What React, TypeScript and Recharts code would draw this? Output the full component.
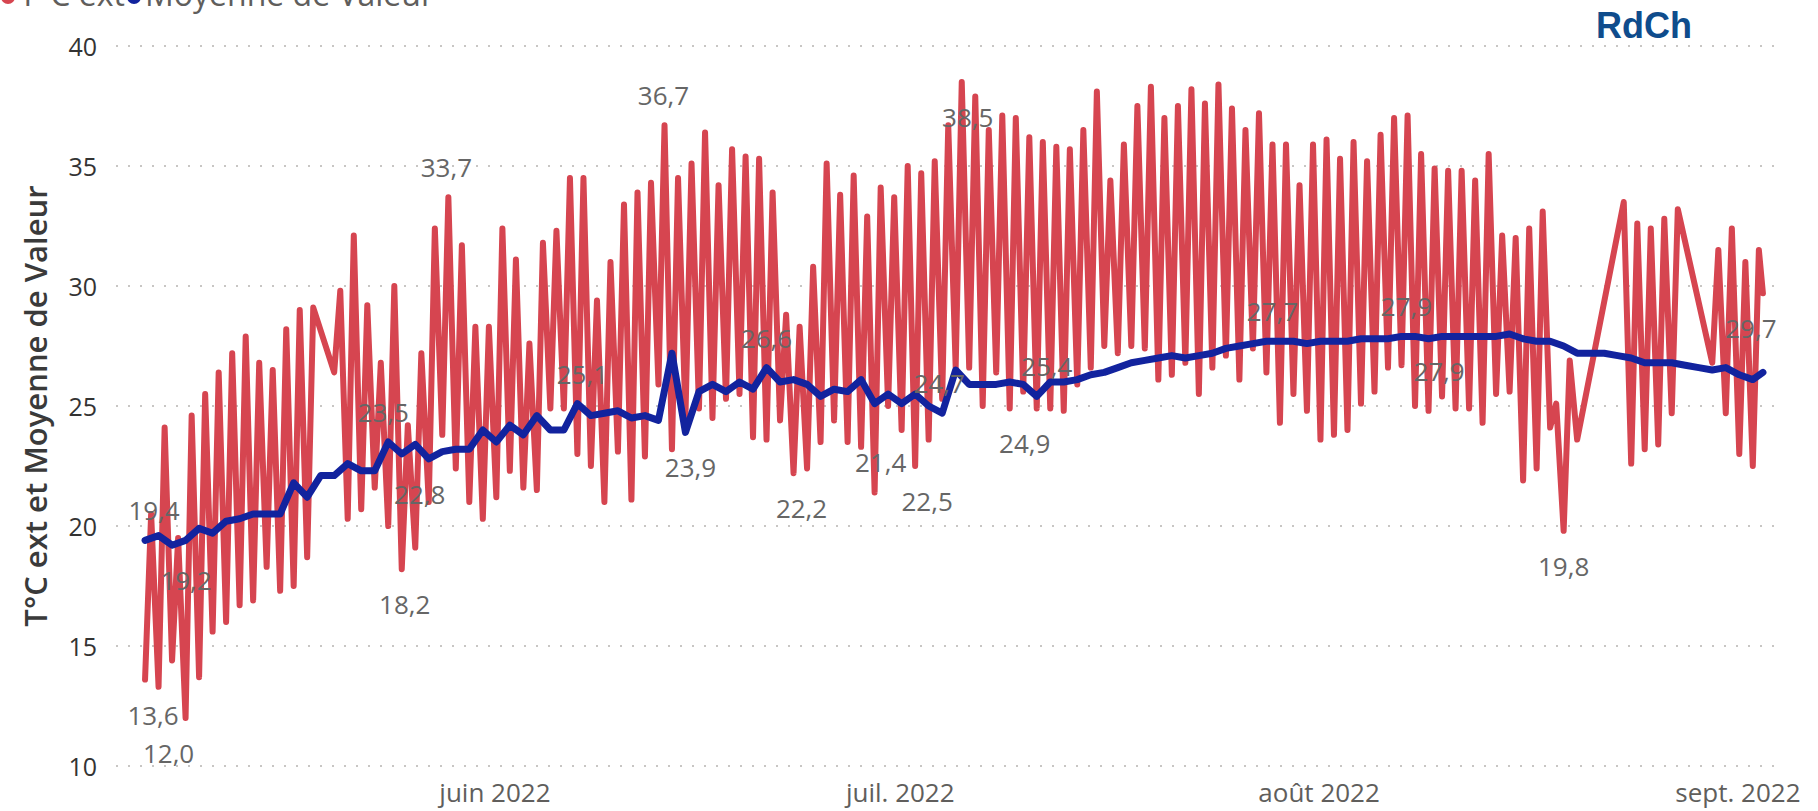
import React from 'react';
import { LineChart, Line, XAxis, YAxis, CartesianGrid, Legend } from 'recharts';

// days are counted from 1 May 2022 (juin = 31, juil. = 61 ...)
const FIRST_DAY = 5;

const monthTicks = [31, 61, 92, 123];
const monthLabels = ['juin 2022', 'juil. 2022', 'août 2022', 'sept. 2022'];
const yTicks = [10, 15, 20, 25, 30, 35, 40];

// daily minimum of T°C ext, 6 May -> 1 Sept
const tempLow = [
  13.6, 13.3, 14.4, 12.0, 13.7, 15.6, 16.0, 16.7, 16.9, 18.3,
  17.3, 17.5, 18.7, null, 26.4, 20.3, 20.7, 21.6, 20.0, 18.2,
  19.1, 21.0, 23.8, 22.4, 21.0, 20.3, 21.2, 22.3, 21.6, 21.5,
  24.9, 24.9, 23.0, 22.5, 21.0, 23.1, 21.1, 22.9, 25.9, 23.2,
  24.6, 24.9, 24.5, 25.3, 25.5, 23.7, 23.6, 24.4, 22.2, 22.4,
  23.5, 24.4, 23.5, 23.3, 21.4, 25.0, 24.0, 22.5, 23.6, 25.3,
  26.6, 26.6, 25.0, 26.4, 24.9, 25.6, 24.9, 24.9, 24.8, 25.9,
  26.6, 27.5, 27.2, 27.5, 27.4, 26.1, 26.3, 26.8, 25.5, 26.6,
  27.1, 26.1, 27.4, 26.4, 24.3, 25.5, 24.8, 23.6, 23.8, 24.0,
  25.1, 25.6, 26.6, 26.7, 25.0, 24.8, 25.4, 24.9, 24.9, 24.3,
  25.5, 25.6, 21.9, 22.4, 24.1, 19.8, 23.6, null, null, null,
  22.6, 23.2, 23.4, 24.7, null, null, 26.8, 24.7, 23.0, 22.5,
];

// daily maximum of T°C ext
const tempHigh = [
  20.5, 24.1, 19.5, 24.6, 25.5, 26.4, 27.2, 27.9, 26.8, 26.5,
  28.2, 29.0, 29.1, null, 29.8, 32.1, 29.2, 26.8, 30.0, 24.2,
  27.2, 32.4, 33.7, 31.7, 28.3, 28.3, 32.4, 31.1, 27.6, 31.8,
  32.3, 34.5, 34.5, 29.4, 31.0, 33.4, 33.9, 34.3, 36.7, 34.5,
  35.1, 36.4, 34.2, 35.7, 35.4, 35.3, 33.9, 28.8, 28.3, 30.8,
  35.1, 33.8, 34.6, 32.9, 34.1, 33.7, 35.0, 34.7, 35.2, 36.7,
  38.5, 37.9, 36.5, 37.1, 37.0, 36.2, 36.0, 35.8, 35.7, 36.5,
  38.1, 34.4, 35.9, 37.5, 38.3, 37.0, 37.5, 38.2, 37.6, 38.4,
  37.4, 36.5, 37.2, 35.9, 35.9, 34.2, 35.9, 36.1, 35.3, 36.0,
  35.2, 36.3, 37.0, 37.1, 35.5, 34.9, 34.8, 34.8, 34.4, 35.5,
  32.1, 32.0, 32.4, 33.1, 25.1, 26.9, null, null, null, 33.5,
  32.6, 32.4, 32.8, 33.2, null, null, 31.5, 32.4, 31.0, 31.5,
];

// Moyenne de Valeur, one value per day
const moyenne = [
  19.4, 19.6, 19.2, 19.4, 19.9, 19.7, 20.2, 20.3, 20.5, 20.5,
  20.5, 21.8, 21.2, 22.1, 22.1, 22.6, 22.3, 22.3, 23.5, 23.0,
  23.4, 22.8, 23.1, 23.2, 23.2, 24.0, 23.5, 24.2, 23.8, 24.6,
  24.0, 24.0, 25.1, 24.6, 24.7, 24.8, 24.5, 24.6, 24.4, 27.2,
  23.9, 25.6, 25.9, 25.6, 26.0, 25.7, 26.6, 26.0, 26.1, 25.9,
  25.4, 25.7, 25.6, 26.1, 25.1, 25.5, 25.1, 25.5, 25.0, 24.7,
  26.5, 25.9, 25.9, 25.9, 26.0, 25.9, 25.4, 26.0, 26.0, 26.1,
  26.3, 26.4, 26.6, 26.8, 26.9, 27.0, 27.1, 27.0, 27.1, 27.2,
  27.4, 27.5, 27.6, 27.7, 27.7, 27.7, 27.6, 27.7, 27.7, 27.7,
  27.8, 27.8, 27.8, 27.9, 27.9, 27.8, 27.9, 27.9, 27.9, 27.9,
  27.9, 28.0, 27.8, 27.7, 27.7, 27.5, 27.2, 27.2, 27.2, 27.1,
  27.0, 26.8, 26.8, 26.8, 26.7, 26.6, 26.5, 26.6, 26.3, 26.1,
];

// last reading of 1 Sept, in the evening
const lastReading = { red: 29.7, blue: 26.4 };

// which points carry a data label, and on which side
type Spot = { pos: 'above' | 'below'; dx: number };
const labelSpots: { series: 'red' | 'blue'; day?: number; at: 'low' | 'high' | 'last'; pos: 'above' | 'below'; dx: number }[] = [
  { series: 'red', day: 5, at: 'low', pos: 'below', dx: 8 },
  { series: 'red', day: 8, at: 'low', pos: 'below', dx: -17 },
  { series: 'blue', day: 5, at: 'low', pos: 'above', dx: 9 },
  { series: 'blue', day: 7, at: 'low', pos: 'below', dx: 14 },
  { series: 'red', day: 24, at: 'low', pos: 'below', dx: 3 },
  { series: 'blue', day: 23, at: 'low', pos: 'above', dx: -5 },
  { series: 'blue', day: 26, at: 'low', pos: 'below', dx: -9 },
  { series: 'red', day: 27, at: 'high', pos: 'above', dx: -2 },
  { series: 'blue', day: 37, at: 'low', pos: 'above', dx: 5 },
  { series: 'red', day: 43, at: 'high', pos: 'above', dx: -1 },
  { series: 'blue', day: 45, at: 'low', pos: 'below', dx: 5 },
  { series: 'blue', day: 51, at: 'low', pos: 'above', dx: 0 },
  { series: 'red', day: 53, at: 'low', pos: 'below', dx: 8 },
  { series: 'red', day: 59, at: 'low', pos: 'above', dx: 6 },
  { series: 'red', day: 62, at: 'low', pos: 'below', dx: 12 },
  { series: 'blue', day: 64, at: 'low', pos: 'above', dx: -3 },
  { series: 'red', day: 65, at: 'high', pos: 'below', dx: 6 },
  { series: 'red', day: 69, at: 'low', pos: 'below', dx: 15 },
  { series: 'blue', day: 71, at: 'low', pos: 'above', dx: 10 },
  { series: 'blue', day: 88, at: 'low', pos: 'above', dx: 6 },
  { series: 'blue', day: 98, at: 'low', pos: 'above', dx: 5 },
  { series: 'blue', day: 101, at: 'low', pos: 'below', dx: -3 },
  { series: 'red', day: 110, at: 'low', pos: 'below', dx: 0 },
  { series: 'red', at: 'last', pos: 'below', dx: -12 },
];

const RED = '#D64550';
const BLUE = '#12239E';
const FONT = '"Segoe UI", "Open Sans", sans-serif';

type Row = { t: number; red: number | null; blue: number | null; redLbl?: Spot; blueLbl?: Spot; key: string };

const rows: Row[] = [];
tempLow.forEach((lo, i) => {
  const d = FIRST_DAY + i;
  rows.push({ t: d + 0.1, red: lo, blue: moyenne[i], key: `${d}-low` });
  rows.push({ t: d + 0.55, red: tempHigh[i], blue: null, key: `${d}-high` });
});
rows.push({ t: FIRST_DAY + tempLow.length - 1 + 0.85, red: lastReading.red, blue: lastReading.blue, key: 'last' });

labelSpots.forEach((s) => {
  const key = s.at === 'last' ? 'last' : `${s.day}-${s.at}`;
  const row = rows.find((r) => r.key === key);
  if (!row) return;
  if (s.series === 'red') row.redLbl = { pos: s.pos, dx: s.dx };
  else row.blueLbl = { pos: s.pos, dx: s.dx };
});

const fmt = (v: number) => v.toFixed(1).replace('.', ',');

const labelDot = (series: 'red' | 'blue') => (props: any) => {
  const { cx, cy, payload, index } = props;
  const spot: Spot | undefined = series === 'red' ? payload?.redLbl : payload?.blueLbl;
  const v = payload?.[series];
  if (!spot || cy == null || v == null) return <g key={`${series}-${index}`} />;
  const y = spot.pos === 'above' ? cy - 30 : cy + 35;
  return (
    <text
      key={`${series}-${index}`}
      x={cx + spot.dx}
      y={y}
      textAnchor="middle"
      dominantBaseline="central"
      fontSize={26}
      fontFamily={FONT}
      fill="#666666"
    >
      {fmt(v)}
    </text>
  );
};

const XTick = (props: any) => {
  const { x, y, payload } = props;
  const i = monthTicks.indexOf(payload.value);
  return (
    <text x={x} y={y + 26} textAnchor="middle" dominantBaseline="central" fontSize={26} fontFamily={FONT} fill="#605E5C">
      {monthLabels[i]}
    </text>
  );
};

const YTick = (props: any) => {
  const { x, y, payload } = props;
  return (
    <text x={x - 19} y={y} textAnchor="end" dominantBaseline="central" fontSize={25} fontFamily={FONT} fill="#333333">
      {payload.value}
    </text>
  );
};

const YTitle = (props: any) => {
  const vb = props.viewBox || {};
  const cx = (vb.x ?? 16) + 19;
  const cy = (vb.y ?? 46) + (vb.height ?? 720) / 2;
  return (
    <text
      transform={`translate(${cx},${cy}) rotate(-90)`}
      textAnchor="middle"
      dominantBaseline="central"
      fontSize={31}
      fontWeight={600}
      fontFamily={FONT}
      fill="#3A3A3A"
    >
      T°C ext et Moyenne de Valeur
    </text>
  );
};

const LegendTop = () => (
  <svg width={620} height={50}>
    <circle cx={8} cy={31} r={7} fill={RED} />
    <text x={19} y={40} fontSize={32} fontFamily={FONT} fill="#605E5C">T°C ext</text>
    <circle cx={134} cy={31} r={7} fill={BLUE} />
    <text x={145} y={40} fontSize={32} fontFamily={FONT} fill="#605E5C">Moyenne de Valeur</text>
  </svg>
);

export default function App() {
  return (
    <div style={{ position: 'absolute', left: 0, top: 0, width: 1818, height: 811, background: '#fff', overflow: 'hidden' }}>
      <LineChart width={1818} height={811} data={rows} margin={{ top: 46, right: 44, bottom: 5, left: 16 }}>
        <CartesianGrid vertical={false} stroke="#C8C6C4" strokeDasharray="2 10" strokeWidth={2} />
        <XAxis
          dataKey="t"
          type="number"
          domain={[2.95, 125.67]}
          ticks={monthTicks}
          tick={<XTick />}
          axisLine={false}
          tickLine={false}
          tickSize={0}
          tickMargin={0}
          height={40}
        />
        <YAxis
          domain={[10, 40]}
          ticks={yTicks}
          tick={<YTick />}
          axisLine={false}
          tickLine={false}
          tickSize={0}
          tickMargin={0}
          width={100}
          label={{ content: (p: any) => <YTitle {...p} /> }}
        />
        <Legend
          layout="horizontal"
          verticalAlign="middle"
          align="center"
          content={() => <LegendTop />}
          wrapperStyle={{ top: -34, left: 0, width: 620, height: 50 }}
        />
        <Line
          name="T°C ext"
          dataKey="red"
          type="linear"
          stroke={RED}
          strokeWidth={6}
          strokeLinejoin="round"
          strokeLinecap="round"
          connectNulls
          dot={labelDot('red')}
          activeDot={false}
          isAnimationActive={false}
        />
        <Line
          name="Moyenne de Valeur"
          dataKey="blue"
          type="linear"
          stroke={BLUE}
          strokeWidth={7}
          strokeLinejoin="round"
          strokeLinecap="round"
          connectNulls
          dot={labelDot('blue')}
          activeDot={false}
          isAnimationActive={false}
        />
      </LineChart>
      <div
        style={{
          position: 'absolute',
          left: 1544,
          top: 8,
          width: 200,
          textAlign: 'center',
          fontFamily: '"Liberation Sans", Arial, sans-serif',
          fontWeight: 700,
          fontSize: 36,
          lineHeight: '36px',
          color: '#0F4C8C',
        }}
      >
        RdCh
      </div>
    </div>
  );
}
